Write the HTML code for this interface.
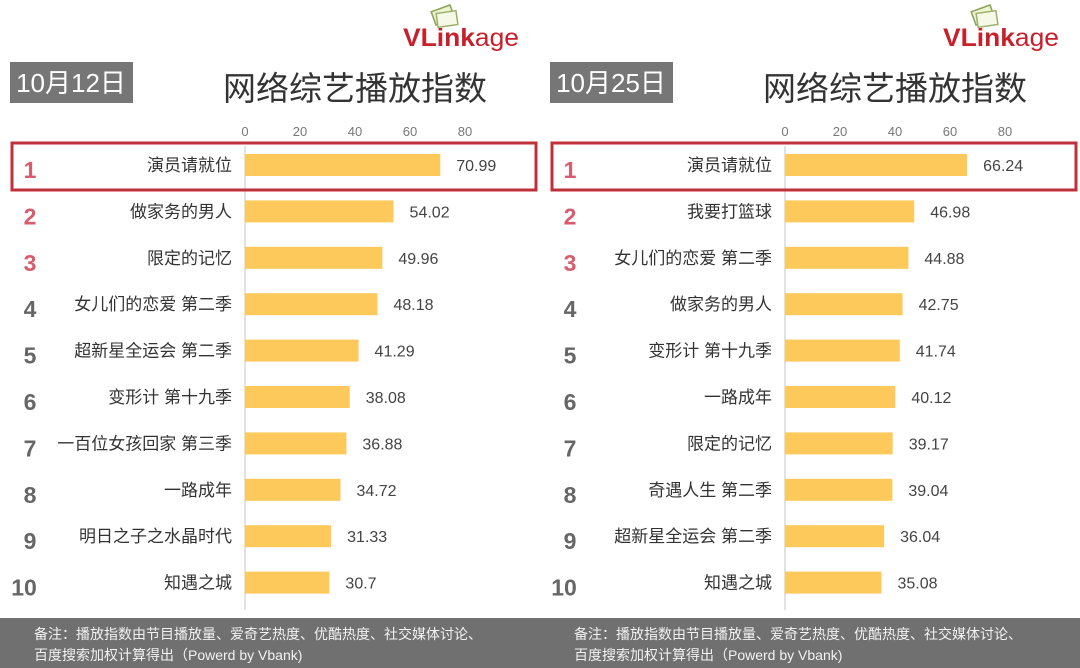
<!DOCTYPE html>
<html><head><meta charset="utf-8">
<style>
body{margin:0;width:1080px;height:668px;background:#fff;overflow:hidden;font-family:"Liberation Sans","Noto Sans CJK SC",sans-serif;}
svg{display:block}
</style></head>
<body>
<svg id="chart" width="1080" height="668" xmlns="http://www.w3.org/2000/svg"></svg>
<script>
const leftDate = "10月12日";
const leftNames = ["演员请就位","做家务的男人","限定的记忆","女儿们的恋爱 第二季","超新星全运会 第二季","变形计 第十九季","一百位女孩回家 第三季","一路成年","明日之子之水晶时代","知遇之城"];
const leftValues = [70.99,54.02,49.96,48.18,41.29,38.08,36.88,34.72,31.33,30.7];
const leftLabels = ["70.99","54.02","49.96","48.18","41.29","38.08","36.88","34.72","31.33","30.7"];
const rightDate = "10月25日";
const rightNames = ["演员请就位","我要打篮球","女儿们的恋爱 第二季","做家务的男人","变形计 第十九季","一路成年","限定的记忆","奇遇人生 第二季","超新星全运会 第二季","知遇之城"];
const rightValues = [66.24,46.98,44.88,42.75,41.74,40.12,39.17,39.04,36.04,35.08];
const rightLabels = ["66.24","46.98","44.88","42.75","41.74","40.12","39.17","39.04","36.04","35.08"];
const ticks = [0,20,40,60,80];

const NS="http://www.w3.org/2000/svg";
const svg=document.getElementById('chart');
function mk(tag,attrs,parent,text){const e=document.createElementNS(NS,tag);for(const k in attrs)e.setAttribute(k,attrs[k]);if(text!==undefined)e.textContent=text;(parent||svg).appendChild(e);return e;}

function panel(ox,date,names,values,labels,id){
  const g=mk('g',{});
  
  
  const x0=ox+245, scale=2.75;
  const xs=v=>x0+v*scale;
  const ys=i=>165+i*46.4;
  const logo=mk('g',{},g);
  
  
  mk('rect',{x:ox+433,y:8,width:20,height:14,fill:'#eef3d0',stroke:'#8aa35a','stroke-width':1.5,transform:`rotate(-20 ${ox+443} 15)`},logo);
  mk('rect',{x:ox+437,y:12,width:20,height:14,fill:'#f7f9e8',stroke:'#9bb06a','stroke-width':1.5,transform:`rotate(-8 ${ox+447} 19)`},logo);
  const lt=mk('text',{x:ox+403,y:46,'font-size':25,fill:'#c8202a',textLength:116,lengthAdjust:'spacingAndGlyphs'},logo);
  mk('tspan',{'font-weight':'bold'},lt,'VLink');
  mk('tspan',{},lt,'age');
  const db=mk('rect',{x:ox+10,y:62,width:123,height:41,fill:'#767676'},g);
  
  
  const dt=mk('text',{x:ox+71,y:92,'font-size':26,fill:'#fff','text-anchor':'middle'},g,date);
  
  
  const tt=mk('text',{x:ox+355,y:100,'font-size':33,fill:'#333','text-anchor':'middle'},g,'网络综艺播放指数');
  
  
  ticks.forEach(t=>{
    const tl=mk('text',{x:xs(t),y:136,'font-size':13,fill:'#777','text-anchor':'middle'},g,String(t));
    
    
  });
  const ax=mk('line',{x1:x0,y1:146,x2:x0,y2:610,stroke:'#d8d8d8','stroke-width':1.5},g);
  
  
  values.forEach((v,i)=>{
    const y=ys(i);
    const bar=mk('rect',{x:x0,y:y-11,width:xs(v)-x0,height:22,fill:'#fdc95a'},g);
    
    
    const vl=mk('text',{x:xs(v)+16,y:y+6,'font-size':16,fill:'#444'},g,labels[i]);
    
    
    const nl=mk('text',{x:ox+232,y:y+6,'font-size':17,fill:'#333','text-anchor':'end'},g,names[i]);
    
    
    const rk=mk('text',{x:ox+(i===9?24:30),y:y+13,'font-size':23,'font-weight':'bold',fill:i<3?'#d85c6c':'#666','text-anchor':'middle'},g,String(i+1));
    
    
  });
  const hl=mk('rect',{x:ox+12,y:143,width:524,height:47,fill:'none',stroke:'#c0303a','stroke-width':3},g);
  
  
  const ft=mk('rect',{x:ox,y:618,width:540,height:50,fill:'#707070'},g);
  
  
  const n1=mk('text',{x:ox+34,y:639,'font-size':14,fill:'#f2f2f2'},g,'备注：播放指数由节目播放量、爱奇艺热度、优酷热度、社交媒体讨论、');
  
  
  const n2=mk('text',{x:ox+34,y:660,'font-size':14,fill:'#f2f2f2'},g,'百度搜索加权计算得出（Powerd by Vbank)');
  
  
}
panel(0,leftDate,leftNames,leftValues,leftLabels,'left');
panel(540,rightDate,rightNames,rightValues,rightLabels,'right');
</script>
</body></html>
